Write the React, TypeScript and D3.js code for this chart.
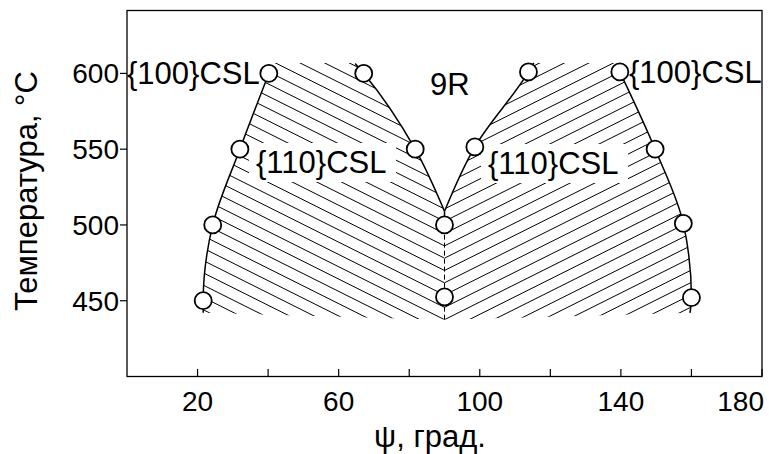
import React from 'react';
import * as d3 from 'd3';

const W = 769;
const H = 454;

// axes
const xDomain = [0, 180];
const yDomain = [400, 641.5];
const xTickValues = [20, 40, 60, 80, 100, 120, 140, 160, 180];
const xTickLabelValues = [20, 60, 100, 140, 180];
const yTickValues = [450, 500, 550, 600];

// measured points (ψ, T)
const pointPsi = [21.6, 24.3, 32.0, 40.2, 90.0, 90.0, 81.7, 67.1, 98.6, 113.8, 139.7, 149.7, 157.7, 160.0];
const pointT = [450, 500, 550, 600, 452.5, 500, 550, 600, 551.5, 601, 601, 550, 501, 452];

// boundary curves
const leftOuterPsi = [21.6, 21.6, 24.3, 32.0, 40.2];
const leftOuterT = [442, 450, 500, 550, 600];
const leftInnerPsi = [90.0, 81.7, 67.1, 64.7];
const leftInnerT = [509, 550, 600, 606.5];
const rightInnerPsi = [90.0, 98.6, 113.8, 115.3];
const rightInnerT = [509, 551.5, 601, 607];
const rightOuterPsi = [159.6, 160.0, 157.7, 149.7, 139.7];
const rightOuterT = [442, 452, 501, 550, 601];
const dividerPsi = 90;
const dividerT = [437.5, 500, 509];
const hatchTopT = 606.8;

const labelTexts = ['{100}CSL', '9R', '{110}CSL', '{110}CSL', '{100}CSL'];

const FONT = '"Liberation Sans", Arial, sans-serif';

function zip(a: number[], b: number[]): [number, number][] {
  return a.map((v, i) => [v, b[i]] as [number, number]);
}

export default function App() {
  const x = d3.scaleLinear().domain(xDomain).range([127, 762]);
  const y = d3.scaleLinear().domain(yDomain).range([376.5, 10.5]);
  const line = d3
    .line<[number, number]>()
    .x((d) => x(d[0]))
    .y((d) => y(d[1]))
    .curve(d3.curveMonotoneY);

  const lo = zip(leftOuterPsi, leftOuterT);
  const li = zip(leftInnerPsi, leftInnerT);
  const ri = zip(rightInnerPsi, rightInnerT);
  const ro = zip(rightOuterPsi, rightOuterT);

  const liRev = li.slice().reverse();
  const roRev = ro.slice().reverse();

  const leftClip =
    (line(lo) as string) +
    `L${x(lo[lo.length - 1][0])},${y(hatchTopT)}` +
    `L${x(liRev[0][0])},${y(hatchTopT)}` +
    `L${x(liRev[0][0])},${y(liRev[0][1])}` +
    (line(liRev) as string).replace(/^M/, 'L') +
    `L${x(dividerPsi)},${y(dividerT[0])}Z`;

  const rightClip =
    (line(ri) as string) +
    `L${x(ri[ri.length - 1][0])},${y(hatchTopT)}` +
    `L${x(roRev[0][0])},${y(hatchTopT)}` +
    `L${x(roRev[0][0])},${y(roRev[0][1])}` +
    (line(roRev) as string).replace(/^M/, 'L') +
    `L${x(dividerPsi)},${y(dividerT[0])}Z`;

  const vx = x(dividerPsi);
  const vy0 = y(dividerT[0]);
  const spacing = 12.3;
  const slope = 0.5;
  const ks = d3.range(-14, 34);

  const labelX = [127, 430, 256, 488, 629];
  const labelY = [84, 95, 173, 174, 83];
  const labelMask = [false, false, true, true, false];

  return (
    <svg
      width={W}
      height={H}
      style={{ position: 'absolute', left: 0, top: 0, background: '#fff' }}
      fontFamily={FONT}
    >
      <defs>
        <clipPath id="clipL">
          <path d={leftClip} />
        </clipPath>
        <clipPath id="clipR">
          <path d={rightClip} />
        </clipPath>
      </defs>
      <rect x={0} y={0} width={W} height={H} fill="#fff" />

      {/* hatching */}
      <g clipPath="url(#clipL)" stroke="#000" strokeWidth={1}>
        {ks.map((k) => {
          const yk = vy0 - k * spacing;
          return <line key={k} x1={vx} y1={yk} x2={vx - 400} y2={yk - 400 * slope} />;
        })}
      </g>
      <g clipPath="url(#clipR)" stroke="#000" strokeWidth={1}>
        {ks.map((k) => {
          const yk = vy0 - k * spacing;
          return <line key={k} x1={vx} y1={yk} x2={vx + 400} y2={yk - 400 * slope} />;
        })}
      </g>

      {/* white gaps under labels */}
      {labelTexts.map((t, i) =>
        labelMask[i] ? (
          <rect key={i} x={labelX[i] - 7} y={labelY[i] - 30} width={147} height={39} fill="#fff" />
        ) : null
      )}

      {/* frame */}
      <rect x={127} y={10.5} width={635} height={366} fill="none" stroke="#000" strokeWidth={1.3} />

      {/* x ticks */}
      {xTickValues.map((v) => (
        <line key={v} x1={x(v)} x2={x(v)} y1={376.5} y2={369} stroke="#000" strokeWidth={1.2} />
      ))}
      {xTickLabelValues.map((v, i) => {
        const last = i === xTickLabelValues.length - 1;
        return (
          <text
            key={v}
            x={last ? x(v) + 2 : x(v)}
            y={411}
            fontSize={28}
            textAnchor={last ? 'end' : 'middle'}
            fill="#000"
          >
            {v}
          </text>
        );
      })}

      {/* y ticks */}
      {yTickValues.map((v) => (
        <line key={v} x1={120} x2={127} y1={y(v)} y2={y(v)} stroke="#000" strokeWidth={1.2} />
      ))}
      {yTickValues.map((v) => (
        <text key={v} x={119} y={y(v) + 10} fontSize={28} textAnchor="end" fill="#000">
          {v}
        </text>
      ))}

      {/* axis titles */}
      <text transform="translate(37,191) rotate(-90)" fontSize={31} textAnchor="middle" fill="#000">
        Температура, °C
      </text>
      <text x={430} y={447} fontSize={31} textAnchor="middle" fill="#000">
        ψ, град.
      </text>

      {/* boundary curves */}
      <g fill="none" stroke="#000" strokeWidth={1.5}>
        <path d={line(lo) as string} />
        <path d={line(li) as string} />
        <path d={line(ri) as string} />
        <path d={line(ro) as string} />
        <line x1={vx} x2={vx} y1={y(dividerT[1])} y2={y(dividerT[2])} />
      </g>
      <line
        x1={vx}
        x2={vx}
        y1={y(dividerT[0])}
        y2={y(dividerT[1])}
        stroke="#000"
        strokeWidth={1}
        strokeDasharray="5,3"
      />

      {/* points */}
      {pointPsi.map((p, i) => (
        <circle key={i} cx={x(p)} cy={y(pointT[i])} r={8.5} fill="#fff" stroke="#000" strokeWidth={1.8} />
      ))}

      {/* labels */}
      {labelTexts.map((t, i) => (
        <text key={i} x={labelX[i]} y={labelY[i]} fontSize={31} fill="#000">
          {t}
        </text>
      ))}
    </svg>
  );
}
